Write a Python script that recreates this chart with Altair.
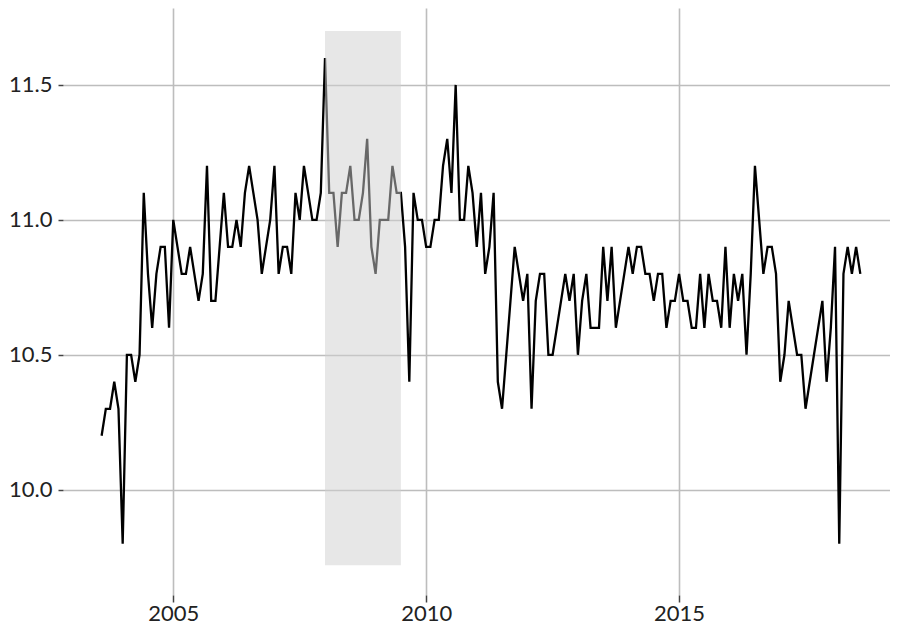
import altair as alt
import pandas as pd

# Monthly series, first observation August 2003
start_year = 2003
start_month = 8
values = [
    10.2, 10.3, 10.3, 10.4, 10.3,                                      # 2003 Aug-Dec
    9.8, 10.5, 10.5, 10.4, 10.5, 11.1, 10.8, 10.6, 10.8, 10.9, 10.9, 10.6,   # 2004
    11.0, 10.9, 10.8, 10.8, 10.9, 10.8, 10.7, 10.8, 11.2, 10.7, 10.7, 10.9,  # 2005
    11.1, 10.9, 10.9, 11.0, 10.9, 11.1, 11.2, 11.1, 11.0, 10.8, 10.9, 11.0,  # 2006
    11.2, 10.8, 10.9, 10.9, 10.8, 11.1, 11.0, 11.2, 11.1, 11.0, 11.0, 11.1,  # 2007
    11.6, 11.1, 11.1, 10.9, 11.1, 11.1, 11.2, 11.0, 11.0, 11.1, 11.3, 10.9,  # 2008
    10.8, 11.0, 11.0, 11.0, 11.2, 11.1, 11.1, 10.9, 10.4, 11.1, 11.0, 11.0,  # 2009
    10.9, 10.9, 11.0, 11.0, 11.2, 11.3, 11.1, 11.5, 11.0, 11.0, 11.2, 11.1,  # 2010
    10.9, 11.1, 10.8, 10.9, 11.1, 10.4, 10.3, 10.5, 10.7, 10.9, 10.8, 10.7,  # 2011
    10.8, 10.3, 10.7, 10.8, 10.8, 10.5, 10.5, 10.6, 10.7, 10.8, 10.7, 10.8,  # 2012
    10.5, 10.7, 10.8, 10.6, 10.6, 10.6, 10.9, 10.7, 10.9, 10.6, 10.7, 10.8,  # 2013
    10.9, 10.8, 10.9, 10.9, 10.8, 10.8, 10.7, 10.8, 10.8, 10.6, 10.7, 10.7,  # 2014
    10.8, 10.7, 10.7, 10.6, 10.6, 10.8, 10.6, 10.8, 10.7, 10.7, 10.6, 10.9,  # 2015
    10.6, 10.8, 10.7, 10.8, 10.5, 10.8, 11.2, 11.0, 10.8, 10.9, 10.9, 10.8,  # 2016
    10.4, 10.5, 10.7, 10.6, 10.5, 10.5, 10.3, 10.4, 10.5, 10.6, 10.7, 10.4,  # 2017
    10.6, 10.9, 9.8, 10.8, 10.9, 10.8, 10.9, 10.8,                           # 2018 Jan-Aug
]

# Recession band (decimal years) and its vertical extent
recession_start = [2008.0]
recession_end = [2009.5]
band_low = [9.72]
band_high = [11.70]

x_ticks = [2005, 2010, 2015]
y_ticks = [10.0, 10.5, 11.0, 11.5]

t = [start_year + (start_month - 1 + i) / 12 for i in range(len(values))]
df = pd.DataFrame({"t": t, "v": values})
rec = pd.DataFrame({"x1": recession_start, "x2": recession_end,
                    "y1": band_low, "y2": band_high})

xscale = alt.Scale(domain=[2002.82, 2019.17], nice=False, zero=False)
yscale = alt.Scale(domain=[9.61, 11.785], nice=False, zero=False)

line = alt.Chart(df).mark_line(color="black", strokeWidth=2.3).encode(
    x=alt.X("t:Q", scale=xscale,
            axis=alt.Axis(values=x_ticks, format="d", title=None,
                          tickSize=7, labelPadding=1)),
    y=alt.Y("v:Q", scale=yscale,
            axis=alt.Axis(values=y_ticks, format=".1f", title=None,
                          tickSize=5, labelPadding=6)),
)

band = alt.Chart(rec).mark_rect(color="#cfcfcf", opacity=0.5).encode(
    x=alt.X("x1:Q", scale=xscale),
    x2="x2:Q",
    y=alt.Y("y1:Q", scale=yscale),
    y2="y2:Q",
)

chart = alt.layer(line, band).properties(
    width=827,
    height=587,
    autosize=alt.AutoSizeParams(type="none"),
    padding={"left": 55, "top": 0, "right": 0, "bottom": 30},
).configure_view(stroke=None).configure_axis(
    domain=False,
    grid=True,
    gridColor="#bdbdbd",
    gridWidth=1.6,
    tickColor="#444444",
    tickWidth=1.5,
    labelFont="Lato",
    labelFontSize=22,
    labelColor="#222222",
).configure_axisX(labelFlush=False)

chart.save("out.html", embed_options={"renderer": "svg", "actions": False})
